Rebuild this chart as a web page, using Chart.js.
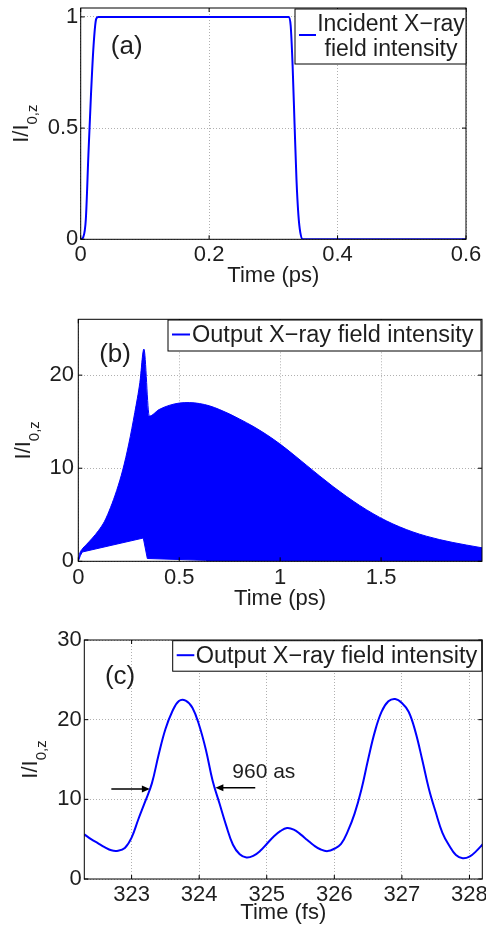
<!DOCTYPE html>
<html>
<head>
<meta charset="utf-8">
<script src="https://cdn.jsdelivr.net/npm/chart.js@4.4.1/dist/chart.umd.min.js"></script>
<style>
  body { margin: 0; background: #fff; }
  canvas { position: absolute; left: 0; }
</style>
</head>
<body>
<canvas id="chartA" width="486" height="292" style="top:0"></canvas>
<canvas id="chartB" width="486" height="320" style="top:300px"></canvas>
<canvas id="chartC" width="486" height="308" style="top:620px"></canvas>
<script>
// (a) incident pulse
const timeA = [0, 0.004, 0.008, 0.012, 0.016, 0.020, 0.024, 0.027, 0.324, 0.327, 0.330, 0.333, 0.336, 0.339, 0.342, 0.346, 0.6];
const intensityA = [0, 0.01, 0.09, 0.38, 0.65, 0.87, 0.99, 1, 1, 0.96, 0.78, 0.52, 0.27, 0.11, 0.03, 0, 0];
const ticksAX = [0, 0.2, 0.4, 0.6];
const ticksAY = [0, 0.5, 1];

// (b) output field, upper and lower envelope of the fast oscillation
const timeBUpper = [0, 0.008, 0.017, 0.04, 0.07, 0.1, 0.13, 0.16, 0.19, 0.22, 0.25, 0.28, 0.305, 0.325, 0.352, 0.4, 0.45, 0.5, 0.55, 0.6, 0.65, 0.7, 0.75, 0.8, 0.866, 0.932, 0.998, 1.064, 1.13, 1.196, 1.262, 1.328, 1.394, 1.46, 1.526, 1.592, 1.658, 1.724, 1.79, 1.856, 1.922, 2.0];
const upperB = [0, 0.9, 1.25, 1.8, 2.5, 3.3, 4.3, 5.8, 7.6, 9.8, 12.6, 16.0, 19.2, 22.8, 15.6, 16.3, 16.75, 17.0, 17.05, 16.95, 16.7, 16.3, 15.82, 15.27, 14.5, 13.62, 12.62, 11.5, 10.33, 9.16, 8.03, 6.98, 6.0, 5.12, 4.35, 3.7, 3.15, 2.7, 2.33, 2.02, 1.75, 1.45];
const timeBLower = [0, 0.01, 0.02, 0.322, 0.342, 0.63, 0.635, 2.0];
const lowerB = [0, 0.6, 1.0, 2.5, 0.3, 0.1, 0, 0];
const ticksBX = [0, 0.5, 1, 1.5];
const ticksBY = [0, 10, 20];

// (c) zoom on a few attosecond pulses
const timeC = [322.3, 322.4, 322.5, 322.6, 322.7, 322.8, 322.9, 323.0, 323.1, 323.2, 323.3, 323.4, 323.5, 323.6, 323.7, 323.8, 323.9, 324.0, 324.1, 324.2, 324.3, 324.4, 324.5, 324.6, 324.7, 324.8, 324.9, 325.0, 325.1, 325.2, 325.3, 325.4, 325.5, 325.6, 325.7, 325.8, 325.9, 326.0, 326.1, 326.2, 326.3, 326.4, 326.5, 326.6, 326.7, 326.8, 326.9, 327.0, 327.1, 327.2, 327.3, 327.4, 327.5, 327.6, 327.7, 327.8, 327.9, 328.0, 328.1, 328.2];
const intensityC = [5.6, 5.0, 4.5, 4.0, 3.6, 3.55, 3.9, 5.2, 7.5, 9.7, 12.0, 15.6, 18.8, 21.0, 22.35, 22.4, 21.5, 19.3, 16.2, 12.3, 9.5, 6.7, 4.3, 3.1, 2.7, 2.9, 3.5, 4.4, 5.3, 6.0, 6.4, 6.2, 5.6, 4.9, 4.2, 3.7, 3.5, 3.8, 4.4, 6.0, 8.2, 11.2, 15.0, 18.5, 21.0, 22.3, 22.6, 22.1, 21.0, 18.5, 15.0, 11.3, 8.4, 5.8, 4.2, 3.0, 2.6, 2.8, 3.5, 4.4];
const ticksCX = [323, 324, 325, 326, 327, 328];
const ticksCY = [0, 10, 20, 30];

const FONT = '"Liberation Sans", Arial, Helvetica, sans-serif';
const INK = '#1e1e1e';
const BLUE = '#0000ff';

const pts = (xs, ys) => xs.map((x, i) => ({ x: x, y: ys[i] }));

// axes box, inward ticks, legend, panel tag and y label drawn MATLAB style
const matlabBox = {
    id: 'matlabBox',
    afterDraw(chart, args, opts) {
        const ctx = chart.ctx;
        const a = chart.chartArea;
        const sx = chart.scales.x;
        const sy = chart.scales.y;
        ctx.save();

        ctx.strokeStyle = '#000';
        ctx.lineWidth = 1;
        ctx.beginPath();
        sx.ticks.forEach((t) => {
            const px = sx.getPixelForValue(t.value);
            ctx.moveTo(px, a.bottom); ctx.lineTo(px, a.bottom - 4);
            ctx.moveTo(px, a.top); ctx.lineTo(px, a.top + 4);
        });
        sy.ticks.forEach((t) => {
            const py = sy.getPixelForValue(t.value);
            ctx.moveTo(a.left, py); ctx.lineTo(a.left + 4, py);
            ctx.moveTo(a.right, py); ctx.lineTo(a.right - 4, py);
        });
        ctx.stroke();
        ctx.strokeRect(a.left, a.top, a.right - a.left, a.bottom - a.top);

        // y axis label I/I_{0,z}
        const yl = opts.yLabel;
        ctx.fillStyle = INK;
        ctx.translate(yl.x, (a.top + a.bottom) / 2);
        ctx.rotate(-Math.PI / 2);
        ctx.textBaseline = 'alphabetic';
        ctx.textAlign = 'left';
        ctx.font = yl.size + 'px ' + FONT;
        const wMain = ctx.measureText(yl.text).width;
        ctx.font = yl.subSize + 'px ' + FONT;
        const wSub = ctx.measureText(yl.sub).width;
        const x0 = -(wMain + wSub) / 2;
        ctx.font = yl.size + 'px ' + FONT;
        ctx.fillText(yl.text, x0, 0);
        ctx.font = yl.subSize + 'px ' + FONT;
        ctx.fillText(yl.sub, x0 + wMain, yl.subShift);
        ctx.setTransform(1, 0, 0, 1, 0, 0);

        // panel tag
        const tag = opts.tag;
        ctx.font = tag.size + 'px ' + FONT;
        ctx.textAlign = 'center';
        ctx.textBaseline = 'middle';
        ctx.fillText(tag.text, sx.getPixelForValue(tag.x), sy.getPixelForValue(tag.y));

        // arrows and note
        (opts.arrows || []).forEach((ar) => {
            const x1 = sx.getPixelForValue(ar.from[0]);
            const y1 = sy.getPixelForValue(ar.from[1]);
            const x2 = sx.getPixelForValue(ar.to[0]);
            const y2 = sy.getPixelForValue(ar.to[1]);
            const dir = Math.sign(x2 - x1);
            ctx.strokeStyle = '#000';
            ctx.lineWidth = 1.5;
            ctx.beginPath();
            ctx.moveTo(x1, y1);
            ctx.lineTo(x2 - dir * 6, y2);
            ctx.stroke();
            ctx.fillStyle = '#000';
            ctx.beginPath();
            ctx.moveTo(x2, y2);
            ctx.lineTo(x2 - dir * 8, y2 - 3.5);
            ctx.lineTo(x2 - dir * 8, y2 + 3.5);
            ctx.closePath();
            ctx.fill();
        });
        if (opts.note) {
            ctx.fillStyle = INK;
            ctx.font = opts.note.size + 'px ' + FONT;
            ctx.textAlign = 'left';
            ctx.textBaseline = 'middle';
            ctx.fillText(opts.note.text, sx.getPixelForValue(opts.note.x), sy.getPixelForValue(opts.note.y));
        }

        // legend box
        const lg = opts.legend;
        const ds = chart.data.datasets[0];
        const left = a.right - lg.right - lg.width;
        const top = a.top + lg.top;
        ctx.fillStyle = '#fff';
        ctx.fillRect(left, top, lg.width, lg.height);
        ctx.strokeStyle = '#000';
        ctx.lineWidth = 1;
        ctx.strokeRect(left, top, lg.width, lg.height);
        ctx.strokeStyle = ds.borderColor;
        ctx.lineWidth = 2;
        ctx.beginPath();
        ctx.moveTo(left + lg.lineX[0], top + lg.lineY);
        ctx.lineTo(left + lg.lineX[1], top + lg.lineY);
        ctx.stroke();
        ctx.fillStyle = INK;
        ctx.font = lg.size + 'px ' + FONT;
        ctx.textAlign = lg.align;
        ctx.textBaseline = 'middle';
        ds.label.split('\n').forEach((line, i) => {
            ctx.fillText(line, left + lg.textX, top + lg.textY[i]);
        });
        ctx.restore();
    },
};

function makeChart(id, cfg) {
    const canvas = document.getElementById(id);
    const W = canvas.width;
    const H = canvas.height;
    const area = cfg.area;
    const tickFont = { family: FONT, size: 22 };
    return new Chart(canvas.getContext('2d'), {
        type: 'line',
        data: { datasets: cfg.datasets },
        options: {
            responsive: false,
            animation: false,
            events: [],
            layout: { padding: { top: area.top, right: W - area.right, left: 0, bottom: 0 } },
            elements: { point: { radius: 0 } },
            scales: {
                x: {
                    type: 'linear',
                    min: cfg.xRange[0],
                    max: cfg.xRange[1],
                    afterBuildTicks: (s) => { s.ticks = cfg.xTicks.map((v) => ({ value: v })); },
                    afterFit: (s) => { s.height = H - area.bottom; s.paddingLeft = 0; s.paddingRight = 0; },
                    ticks: { padding: cfg.xPad, color: INK, font: tickFont, maxRotation: 0, autoSkip: false, callback: (v) => String(v) },
                    grid: { color: '#b0b0b0', lineWidth: 1, drawTicks: false },
                    border: { display: false, dash: [1, 2] },
                    title: { display: true, text: cfg.xTitle, color: INK, font: tickFont, padding: { top: 0, bottom: cfg.titlePad } },
                },
                y: {
                    type: 'linear',
                    min: cfg.yRange[0],
                    max: cfg.yRange[1],
                    afterBuildTicks: (s) => { s.ticks = cfg.yTicks.map((v) => ({ value: v })); },
                    afterFit: (s) => { s.width = area.left; s.paddingTop = 0; s.paddingBottom = 0; },
                    ticks: { padding: cfg.yPad, color: INK, font: tickFont, autoSkip: false, callback: (v) => String(v) },
                    grid: { color: '#b0b0b0', lineWidth: 1, drawTicks: false },
                    border: { display: false, dash: [1, 2] },
                },
            },
            plugins: {
                legend: { display: false },
                tooltip: { enabled: false },
                matlabBox: cfg.box,
            },
        },
        plugins: [matlabBox],
    });
}

makeChart('chartA', {
    area: { left: 80.7, right: 466, top: 8, bottom: 239.3 },
    xRange: [0, 0.6], yRange: [0, 1.04],
    xTicks: ticksAX, yTicks: ticksAY,
    xPad: 2, yPad: 2.4, titlePad: 3,
    xTitle: 'Time (ps)',
    datasets: [{
        label: 'Incident X\u2212ray\nfield intensity',
        data: pts(timeA, intensityA),
        borderColor: BLUE, borderWidth: 2, cubicInterpolationMode: 'monotone', fill: false,
    }],
    box: {
        yLabel: { x: 28.3, text: 'I/I', sub: '0,z', size: 22, subSize: 15, subShift: 9 },
        tag: { text: '(a)', x: 0.0717, y: 0.867, size: 26 },
        legend: { right: 0, top: 1, width: 171, height: 55, lineX: [4, 21], lineY: 26, textX: 96, textY: [16, 41], align: 'center', size: 23 },
    },
});

makeChart('chartB', {
    area: { left: 78.3, right: 482, top: 19.3, bottom: 261.3 },
    xRange: [0, 2], yRange: [0, 26],
    xTicks: ticksBX, yTicks: ticksBY,
    xPad: 3.8, yPad: 4.3, titlePad: 8,
    xTitle: 'Time (ps)',
    datasets: [{
        label: 'Output X\u2212ray field intensity',
        data: pts(timeBUpper, upperB),
        borderColor: BLUE, backgroundColor: BLUE, borderWidth: 1, cubicInterpolationMode: 'monotone', fill: '+1',
    }, {
        label: 'lower envelope',
        data: pts(timeBLower, lowerB),
        borderColor: BLUE, borderWidth: 1, tension: 0, fill: false,
    }],
    box: {
        yLabel: { x: 30, text: 'I/I', sub: '0,z', size: 22, subSize: 15, subShift: 9 },
        tag: { text: '(b)', x: 0.182, y: 22.2, size: 26 },
        legend: { right: 1, top: 0.7, width: 313, height: 31, lineX: [4, 22], lineY: 14.5, textX: 24, textY: [16], align: 'left', size: 23.5 },
    },
});

makeChart('chartC', {
    area: { left: 84.3, right: 482.3, top: 20, bottom: 259 },
    xRange: [322.3, 328.19], yRange: [0, 30],
    xTicks: ticksCX, yTicks: ticksCY,
    xPad: 2.8, yPad: 2.6, titlePad: 1.8,
    xTitle: 'Time (fs)',
    datasets: [{
        label: 'Output X\u2212ray field intensity',
        data: pts(timeC, intensityC),
        borderColor: BLUE, borderWidth: 2, tension: 0.4, fill: false,
    }],
    box: {
        yLabel: { x: 36.7, text: 'I/I', sub: '0,z', size: 22, subSize: 15, subShift: 9 },
        tag: { text: '(c)', x: 322.83, y: 25.4, size: 26 },
        arrows: [
            { from: [322.70, 11.3], to: [323.27, 11.3] },
            { from: [324.83, 11.45], to: [324.24, 11.45] },
        ],
        note: { text: '960 as', x: 324.49, y: 13.46, size: 21 },
        legend: { right: 0.6, top: 0.7, width: 309, height: 30.5, lineX: [4, 21.6], lineY: 14.5, textX: 23, textY: [16], align: 'left', size: 23.5 },
    },
});
</script>
</body>
</html>
